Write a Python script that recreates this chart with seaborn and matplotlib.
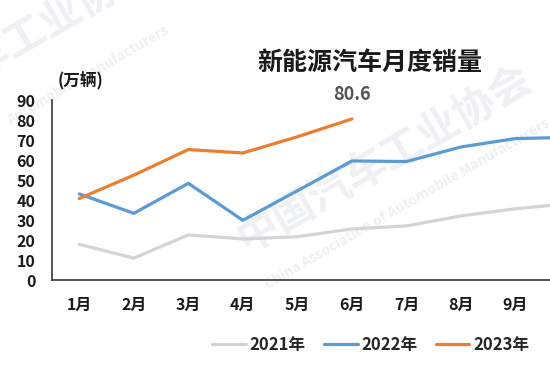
import pandas as pd
import matplotlib.pyplot as plt
import seaborn as sns

# data (万辆)
months = [1, 2, 3, 4, 5, 6, 7, 8, 9, 10, 11, 12]
month_labels = [f"{m}月" for m in months]
sales_2021 = [17.9, 11.0, 22.6, 20.6, 21.7, 25.6, 27.1, 32.1, 35.7, 38.3, 45.0, 53.1]
sales_2022 = [43.1, 33.4, 48.4, 29.9, 44.7, 59.6, 59.3, 66.6, 70.8, 71.4, 78.6, 81.4]
sales_2023 = [40.8, 52.5, 65.3, 63.6, 71.7, 80.6]
years = ["2021年", "2022年", "2023年"]
colors = ["#d4d4d4", "#5b9bd5", "#ed7d31"]

sns.set_style("white")
plt.rcParams['font.family'] = ['Noto Sans CJK SC', 'DejaVu Sans']
plt.rcParams['font.weight'] = 'bold'

rows = []
for yr, vals in zip(years, [sales_2021, sales_2022, sales_2023]):
    for m, v in zip(months, vals):
        rows.append({'年份': yr, '月份': m, '销量': v})
df = pd.DataFrame(rows)

fig = plt.figure(figsize=(5.5, 3.78), dpi=100)

# faint watermark, kept behind the plot
wm = '#eef0f4'
fig.text(0.70, 0.58, "中国汽车工业协会", fontsize=30, color=wm, rotation=30,
         ha='center', va='center', zorder=-1)
fig.text(0.74, 0.46, "China Association of Automobile Manufacturers", fontsize=10,
         color=wm, rotation=30, ha='center', va='center', zorder=-1)
fig.text(0.08, 0.93, "汽车工业协会", fontsize=30, color=wm, rotation=30,
         ha='center', va='center', zorder=-1)
fig.text(0.16, 0.80, "Automobile Manufacturers", fontsize=10,
         color=wm, rotation=30, ha='center', va='center', zorder=-1)

# axes run off the right edge (cropped chart)
ax = fig.add_axes([0.0945, 0.259, 1.19, 0.476])
ax.set_zorder(1)
ax.patch.set_alpha(0)

sns.lineplot(data=df, x='月份', y='销量', hue='年份', palette=colors,
             hue_order=years, linewidth=2.3, ax=ax, legend=False)

ax.set_xlim(0.5, 12.5)
ax.set_ylim(0, 90)
# only the first nine month labels fall inside the cropped picture
ax.set_xticks(months[:9], month_labels[:9])
ax.set_yticks(range(0, 91, 10))
ax.set_xlabel('')
ax.set_ylabel('')
ax.tick_params(axis='both', length=0, labelsize=11.5, colors='#1a1a1a')
ax.tick_params(axis='y', pad=12)
ax.tick_params(axis='x', pad=12)
for lab in ax.get_xticklabels() + ax.get_yticklabels():
    lab.set_fontweight('bold')

for side in ['top', 'right']:
    ax.spines[side].set_visible(False)
for side in ['left', 'bottom']:
    ax.spines[side].set_color('#3a3a3a')
    ax.spines[side].set_linewidth(1.2)

# label on June 2023
ax.annotate(f"{sales_2023[-1]}", xy=(6, sales_2023[-1]), xytext=(0, 11),
            textcoords='offset points', ha='center', va='bottom',
            fontsize=13, fontweight='bold', color='#555555')

fig.text(370 / 550, 1 - 63 / 378, "新能源汽车月度销量", fontsize=18,
         fontweight='bold', ha='center', va='center', color='#1a1a1a')
fig.text(58 / 550, 1 - 81 / 378, "(万辆)", fontsize=12,
         fontweight='bold', ha='left', va='center', color='#1a1a1a')

handles = [plt.Line2D([], [], color=c, linewidth=2.3) for c in colors]
fig.legend(handles, years, loc='center', bbox_to_anchor=(371 / 550, 1 - 345 / 378),
           ncol=3, frameon=False, handlelength=2.0,
           handletextpad=0.25, columnspacing=1.1,
           prop={'weight': 'bold', 'size': 12})

fig.savefig('out.png', dpi=100)
